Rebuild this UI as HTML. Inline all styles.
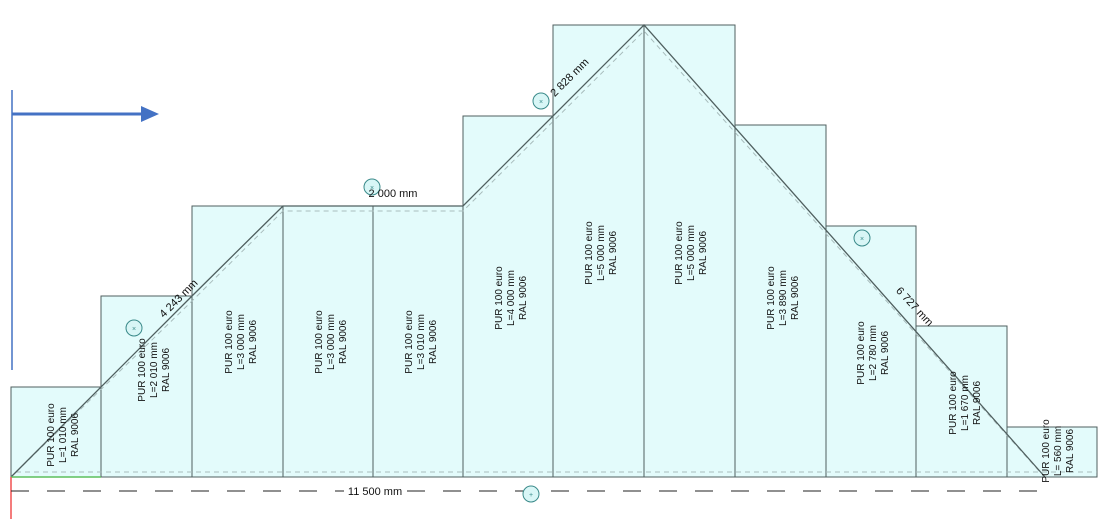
<!DOCTYPE html>
<html><head><meta charset="utf-8"><style>
body{margin:0;background:#fff;width:1114px;height:519px;overflow:hidden}
svg{display:block;font-family:"Liberation Sans",sans-serif}
</style></head><body>
<svg width="1114" height="519" viewBox="0 0 1114 519">
<g fill="#e3fbfb" stroke="#4f5f5f" stroke-width="1">
<rect x="11" y="387" width="90" height="90"/>
<rect x="101" y="296" width="91" height="181"/>
<rect x="192" y="206" width="91" height="271"/>
<rect x="283" y="206" width="90" height="271"/>
<rect x="373" y="206" width="90" height="271"/>
<rect x="463" y="116" width="90" height="361"/>
<rect x="553" y="25" width="91" height="452"/>
<rect x="644" y="25" width="91" height="452"/>
<rect x="735" y="125" width="91" height="352"/>
<rect x="826" y="226" width="90" height="251"/>
<rect x="916" y="326" width="91" height="151"/>
<rect x="1007" y="427" width="90" height="50"/>
</g>
<polyline points="16,472 192,301 283,211 463,211 644,31 1040,472" fill="none" stroke="#a8bcbc" stroke-dasharray="5,4"/>
<line x1="16" y1="472" x2="1097" y2="472" stroke="#a8bcbc" stroke-dasharray="5,4"/>
<polyline points="11,477 192,296 283,206 463,206 644,25 1045,477" fill="none" stroke="#4f5f5f" stroke-width="1.3"/>
<line x1="11" y1="477" x2="101" y2="477" stroke="#5cbf5c" stroke-width="1.5"/>
<line x1="11" y1="477" x2="11" y2="519" stroke="#f05050" stroke-width="1.5"/>
<line x1="11" y1="491" x2="1043" y2="491" stroke="#222" stroke-dasharray="18,18"/>
<line x1="12" y1="90" x2="12" y2="370" stroke="#4472c4" stroke-width="1.5"/>
<line x1="12" y1="114" x2="143" y2="114" stroke="#4472c4" stroke-width="3"/>
<polygon points="141,106 159,114 141,122" fill="#4472c4"/>
<g fill="#d8f6f6" stroke="#3a8a8a">
<circle cx="134" cy="328" r="8"/><circle cx="372" cy="187" r="8"/><circle cx="541" cy="101" r="8"/><circle cx="862" cy="238" r="8"/><circle cx="531" cy="494" r="8"/>
</g>
<g font-size="7" fill="#3a8a8a" text-anchor="middle">
<text x="134" y="331">×</text><text x="372" y="190">×</text><text x="541" y="104">×</text><text x="862" y="241">×</text><text x="531" y="497">+</text>
</g>
<g font-size="11" fill="#111">
<text transform="translate(181,301) rotate(-45)" text-anchor="middle">4 243 mm</text>
<text x="393" y="197" text-anchor="middle">2 000 mm</text>
<text transform="translate(572,80) rotate(-45)" text-anchor="middle">2 828 mm</text>
<text transform="translate(912,309) rotate(47)" text-anchor="middle">6 727 mm</text>
<rect x="344" y="484" width="62" height="13" fill="#fff"/>
<text x="375" y="495" text-anchor="middle">11 500 mm</text>
</g>
<g font-size="10" fill="#111" text-anchor="middle">
<g transform="translate(62,435) rotate(-90)"><text y="-8">PUR 100 euro</text><text y="4">L=1 010 mm</text><text y="16">RAL 9006</text></g>
<g transform="translate(153,370) rotate(-90)"><text y="-8">PUR 100 euro</text><text y="4">L=2 010 mm</text><text y="16">RAL 9006</text></g>
<g transform="translate(240,342) rotate(-90)"><text y="-8">PUR 100 euro</text><text y="4">L=3 000 mm</text><text y="16">RAL 9006</text></g>
<g transform="translate(330,342) rotate(-90)"><text y="-8">PUR 100 euro</text><text y="4">L=3 000 mm</text><text y="16">RAL 9006</text></g>
<g transform="translate(420,342) rotate(-90)"><text y="-8">PUR 100 euro</text><text y="4">L=3 010 mm</text><text y="16">RAL 9006</text></g>
<g transform="translate(510,298) rotate(-90)"><text y="-8">PUR 100 euro</text><text y="4">L=4 000 mm</text><text y="16">RAL 9006</text></g>
<g transform="translate(600,253) rotate(-90)"><text y="-8">PUR 100 euro</text><text y="4">L=5 000 mm</text><text y="16">RAL 9006</text></g>
<g transform="translate(690,253) rotate(-90)"><text y="-8">PUR 100 euro</text><text y="4">L=5 000 mm</text><text y="16">RAL 9006</text></g>
<g transform="translate(782,298) rotate(-90)"><text y="-8">PUR 100 euro</text><text y="4">L=3 890 mm</text><text y="16">RAL 9006</text></g>
<g transform="translate(872,353) rotate(-90)"><text y="-8">PUR 100 euro</text><text y="4">L=2 780 mm</text><text y="16">RAL 9006</text></g>
<g transform="translate(964,403) rotate(-90)"><text y="-8">PUR 100 euro</text><text y="4">L=1 670 mm</text><text y="16">RAL 9006</text></g>
<g transform="translate(1057,451) rotate(-90)"><text y="-8">PUR 100 euro</text><text y="4">L= 560 mm</text><text y="16">RAL 9006</text></g>
</g>
</svg>
</body></html>
